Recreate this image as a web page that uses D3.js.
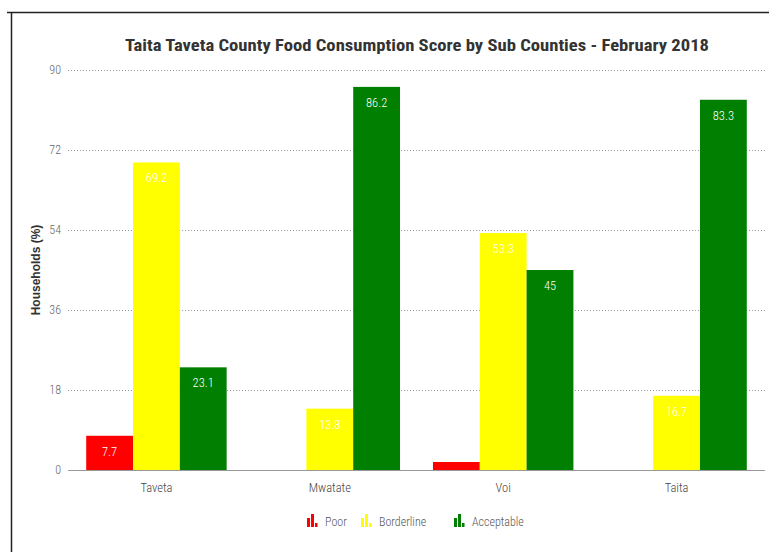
<!DOCTYPE html>
<html>
<head>
<meta charset="utf-8">
<script src="https://cdn.jsdelivr.net/npm/d3@7/dist/d3.min.js"></script>
<style>
  html, body { margin: 0; padding: 0; background: #fff; }
  svg { display: block; }
  text { font-family: "Liberation Sans Narrow", "Roboto Condensed", "Liberation Sans", Arial, sans-serif; }
</style>
</head>
<body>
<svg id="chart" width="769" height="552"></svg>
<script>
// Food Consumption Score by sub county (% of households)
const subCounties = ["Taveta", "Mwatate", "Voi", "Taita"];
const groups = ["Poor", "Borderline", "Acceptable"];
const poor = [7.7, 0, 1.8, 0];
const borderline = [69.2, 13.8, 53.3, 16.7];
const acceptable = [23.1, 86.2, 45, 83.3];
const yTicks = [0, 18, 36, 54, 72, 90];
const colors = ["#ff0000", "#ffff00", "#007f00"];

const seriesValues = [poor, borderline, acceptable];
const rows = subCounties.map((c, i) => ({
  county: c,
  values: groups.map((g, j) => ({ group: g, value: seriesValues[j][i] }))
}));

const svg = d3.select("#chart");
const W = 769, H = 552;
const margin = { left: 68, right: 4, top: 70, bottom: 82 };

// outer frame (top and left edges)
svg.append("line").attr("x1", 7).attr("x2", W).attr("y1", 12.5).attr("y2", 12.5)
  .attr("stroke", "#222").attr("stroke-width", 1.5);
svg.append("line").attr("x1", 11.5).attr("x2", 11.5).attr("y1", 12).attr("y2", H)
  .attr("stroke", "#222").attr("stroke-width", 1.5);

const x0 = d3.scaleBand().domain(subCounties)
  .range([margin.left, W - margin.right]).paddingInner(0.19).paddingOuter(0.105);
const x1 = d3.scaleBand().domain(groups).range([0, x0.bandwidth()]);
const y = d3.scaleLinear().domain([0, 90]).range([H - margin.bottom, margin.top]);
const color = d3.scaleOrdinal().domain(groups).range(colors);

// title
svg.append("text")
  .attr("x", 417).attr("y", 51)
  .attr("text-anchor", "middle")
  .attr("font-size", 17).attr("font-weight", "bold").attr("fill", "#333")
  .attr("textLength", 584).attr("lengthAdjust", "spacingAndGlyphs")
  .text("Taita Taveta County Food Consumption Score by Sub Counties - February 2018");

// grid lines + y tick labels
const yAxis = d3.axisLeft(y).tickValues(yTicks).tickSize(-(W - margin.right - margin.left)).tickPadding(7);
const gy = svg.append("g").attr("transform", `translate(${margin.left},0)`).call(yAxis);
gy.select(".domain").remove();
gy.selectAll(".tick line")
  .attr("stroke", "#999").attr("stroke-dasharray", "1,2")
  .filter(d => d === 0).remove();
gy.selectAll(".tick text").attr("font-size", 12).attr("fill", "#666").attr("font-weight", 300)
  .style("font-family", "'Liberation Sans Narrow', 'Roboto Condensed', 'Liberation Sans', Arial, sans-serif");

// y axis title
svg.append("text")
  .attr("transform", `translate(40,${(y(0) + y(90)) / 2}) rotate(-90)`)
  .attr("text-anchor", "middle")
  .style("font-family", "'Liberation Sans', Arial, sans-serif")
  .attr("font-size", 12).attr("font-weight", "bold").attr("fill", "#333")
  .text("Households (%)");

// bars
const g = svg.append("g").selectAll("g").data(rows).join("g")
  .attr("transform", d => `translate(${x0(d.county)},0)`);

g.selectAll("rect").data(d => d.values.filter(v => v.value > 0)).join("rect")
  .attr("x", d => x1(d.group))
  .attr("width", x1.bandwidth())
  .attr("y", d => y(d.value))
  .attr("height", d => y(0) - y(d.value))
  .attr("fill", d => color(d.group));

// value labels inside the top of each bar
g.selectAll("text.val").data(d => d.values.filter(v => y(0) - y(v.value) > 20)).join("text")
  .attr("class", "val")
  .attr("x", d => x1(d.group) + x1.bandwidth() / 2)
  .attr("y", d => y(d.value) + 20)
  .attr("text-anchor", "middle")
  .attr("font-size", 12.5).attr("font-weight", 300).attr("fill", "#fff")
  .text(d => d.value);

// x axis baseline and category labels
const xAxis = d3.axisBottom(x0).tickSize(0).tickPadding(13);
const gx = svg.append("g").attr("transform", `translate(0,${y(0)})`).call(xAxis);
gx.select(".domain").attr("stroke", "#999").attr("d", `M${margin.left},0.5H${W - margin.right}`);
gx.selectAll(".tick text").attr("font-size", 12.5).attr("fill", "#444").attr("font-weight", 300)
  .style("font-family", "'Liberation Sans Narrow', 'Roboto Condensed', 'Liberation Sans', Arial, sans-serif");

// legend
const legendX = [307, 361, 454];
const legend = svg.append("g").selectAll("g").data(groups).join("g")
  .attr("transform", (d, i) => `translate(${legendX[i]},527)`);
legend.append("rect").attr("x", 0).attr("y", -9).attr("width", 3).attr("height", 9).attr("fill", d => color(d));
legend.append("rect").attr("x", 4).attr("y", -13).attr("width", 3).attr("height", 13).attr("fill", d => color(d));
legend.append("rect").attr("x", 8).attr("y", -4).attr("width", 2.5).attr("height", 4).attr("fill", d => color(d));
legend.append("text").attr("x", 18).attr("y", -1)
  .attr("font-size", 12).attr("font-weight", 300).attr("fill", "#555")
  .text(d => d);
</script>
</body>
</html>
